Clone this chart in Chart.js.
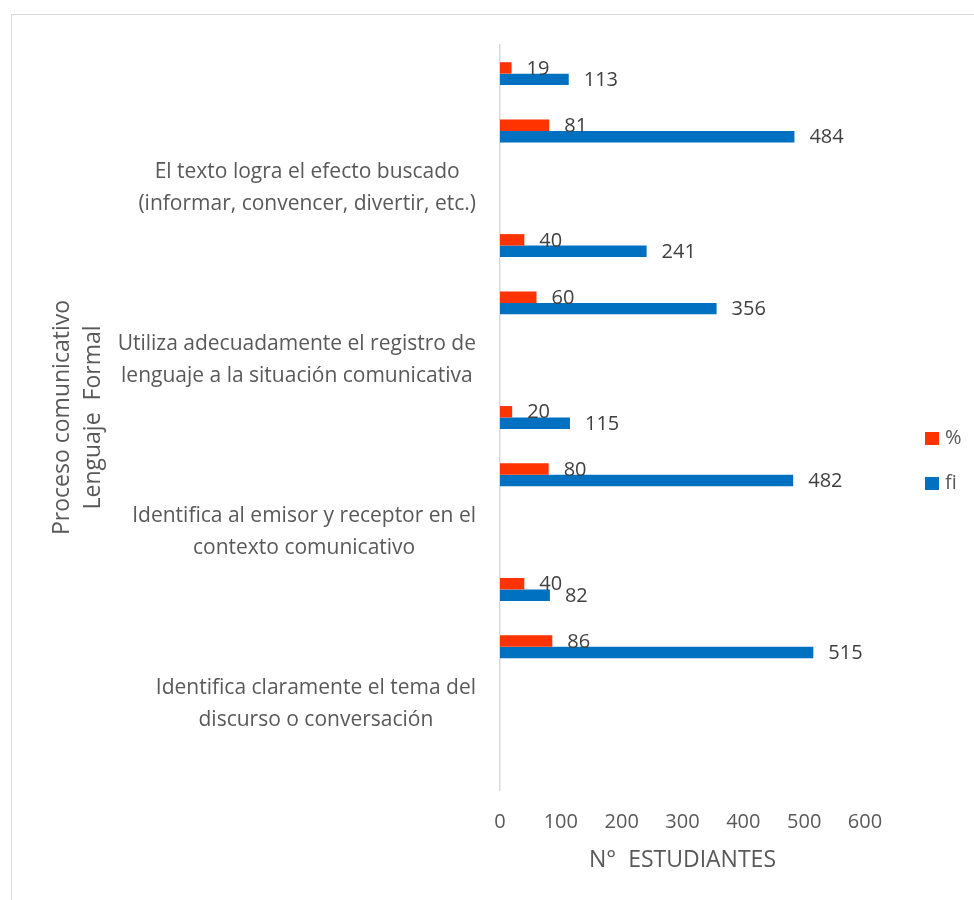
<!DOCTYPE html>
<html lang="es">
<head>
<meta charset="utf-8">
<title>Proceso comunicativo - Lenguaje Formal</title>
<script src="https://cdn.jsdelivr.net/npm/chart.js@4.4.1/dist/chart.umd.min.js"></script>
<style>
    html, body { margin: 0; padding: 0; background: #fff; overflow: hidden; }
    .frame { position: absolute; left: 11px; top: 14px; width: 1200px; height: 1200px; border: 1.5px solid #d9d9d9; }
    .chart-box { position: absolute; left: 0; top: 0; width: 974px; height: 900px; }
</style>
</head>
<body>
<div class="frame"></div>
<div class="chart-box"><canvas id="chart"></canvas></div>
<script>
// Categories, top to bottom (empty rows hold the bars of each item)
const categories = [
    '',
    '',
    ['El texto logra el efecto buscado', '(informar, convencer, divertir, etc.)'],
    '',
    '',
    ['Utiliza adecuadamente el registro de', 'lenguaje a la situación comunicativa'],
    '',
    '',
    ['Identifica al emisor y receptor en el', 'contexto comunicativo'],
    '',
    '',
    ['Identifica claramente el tema del', 'discurso o conversación'],
    ''
];

// Series values
const pctValues = [19, 81, null, 40, 60, null, 20, 80, null, 40, 86, null, null];
const fiValues = [113, 484, null, 241, 356, null, 115, 482, null, 82, 515, null, null];

// X axis ticks
const xTicks = [0, 100, 200, 300, 400, 500, 600];

const FONT = "'Open Sans', Lato, sans-serif";
const TEXT_GREY = '#595959';
const LABEL_GREY = '#404040';

Chart.defaults.font.family = FONT;
Chart.defaults.font.size = 20;
Chart.defaults.color = TEXT_GREY;

// Value labels at the end of each bar
const barValueLabels = {
    id: 'barValueLabels',
    afterDatasetsDraw(chart) {
        const ctx = chart.ctx;
        ctx.save();
        ctx.font = '20px ' + FONT;
        ctx.fillStyle = LABEL_GREY;
        ctx.textAlign = 'left';
        ctx.textBaseline = 'middle';
        chart.data.datasets.forEach((ds, di) => {
            chart.getDatasetMeta(di).data.forEach((bar, i) => {
                const v = ds.data[i];
                if (v === null || v === undefined) return;
                ctx.fillText(String(v), bar.x + 15, bar.y + 1);
            });
        });
        ctx.restore();
    }
};

// Category labels: each block centred on itself, block right-aligned to the axis
const categoryLabels = {
    id: 'categoryLabels',
    afterDraw(chart) {
        const scale = chart.scales.y;
        const ctx = chart.ctx;
        const lineHeight = 31.7;
        ctx.save();
        ctx.font = '21px ' + FONT;
        ctx.fillStyle = TEXT_GREY;
        ctx.textAlign = 'center';
        ctx.textBaseline = 'middle';
        chart.data.labels.forEach((label, i) => {
            const lines = Array.isArray(label) ? label : [label];
            if (!lines.join('')) return;
            const maxW = Math.max(...lines.map(l => ctx.measureText(l).width));
            const cx = scale.right - 24 - maxW / 2;
            const cy = scale.getPixelForValue(i);
            const y0 = cy - (lines.length - 1) * lineHeight / 2;
            lines.forEach((line, k) => ctx.fillText(line, cx, y0 + k * lineHeight));
        });
        ctx.restore();
    }
};

// Legend on the right, square markers
const sideLegend = {
    id: 'sideLegend',
    afterDraw(chart) {
        const ctx = chart.ctx;
        const area = chart.chartArea;
        const x0 = area.right + 60;
        const midY = (chart.height + 22) / 2;
        const gap = 45;
        const n = chart.data.datasets.length;
        ctx.save();
        ctx.font = '20px ' + FONT;
        ctx.textAlign = 'left';
        ctx.textBaseline = 'middle';
        chart.data.datasets.forEach((ds, i) => {
            const y = midY + (i - (n - 1) / 2) * gap;
            ctx.fillStyle = ds.backgroundColor;
            ctx.fillRect(x0, y - 6.5, 14, 13);
            ctx.fillStyle = TEXT_GREY;
            ctx.fillText(ds.label, x0 + 20, y);
        });
        ctx.restore();
    }
};

const ctx = document.getElementById('chart').getContext('2d');
new Chart(ctx, {
    type: 'bar',
    data: {
        labels: categories,
        datasets: [
            { label: '%', data: pctValues, backgroundColor: '#FF3300' },
            { label: 'fi', data: fiValues, backgroundColor: '#0070C0' }
        ]
    },
    options: {
        indexAxis: 'y',
        responsive: true,
        maintainAspectRatio: false,
        animation: false,
        categoryPercentage: 0.4,
        barPercentage: 1.0,
        layout: {
            padding: { left: 40, top: 45, right: 109, bottom: 20 }
        },
        plugins: {
            legend: { display: false },
            tooltip: { enabled: false }
        },
        scales: {
            x: {
                min: xTicks[0],
                max: xTicks[xTicks.length - 1],
                grid: { display: false, drawTicks: false },
                border: { display: false },
                ticks: {
                    stepSize: xTicks[1] - xTicks[0],
                    padding: 20,
                    color: TEXT_GREY,
                    font: { size: 20, lineHeight: 1.2 }
                },
                title: {
                    display: true,
                    text: 'N°  ESTUDIANTES',
                    color: TEXT_GREY,
                    font: { size: 23, lineHeight: 1.2 },
                    padding: { top: 12, bottom: 6 }
                },
                afterFit(scale) {
                    scale.height = 90;
                }
            },
            y: {
                grid: { display: false, drawTicks: false },
                border: { display: true, color: '#d9d9d9', width: 1.5 },
                ticks: { display: false, autoSkip: false },
                title: {
                    display: true,
                    text: ['Proceso comunicativo', 'Lenguaje  Formal'],
                    color: TEXT_GREY,
                    font: { size: 23, lineHeight: 1.35 },
                    padding: { top: 6.5, bottom: 10 }
                },
                afterFit(scale) {
                    scale.width = 460;
                }
            }
        }
    },
    plugins: [barValueLabels, categoryLabels, sideLegend]
});
</script>
</body>
</html>
